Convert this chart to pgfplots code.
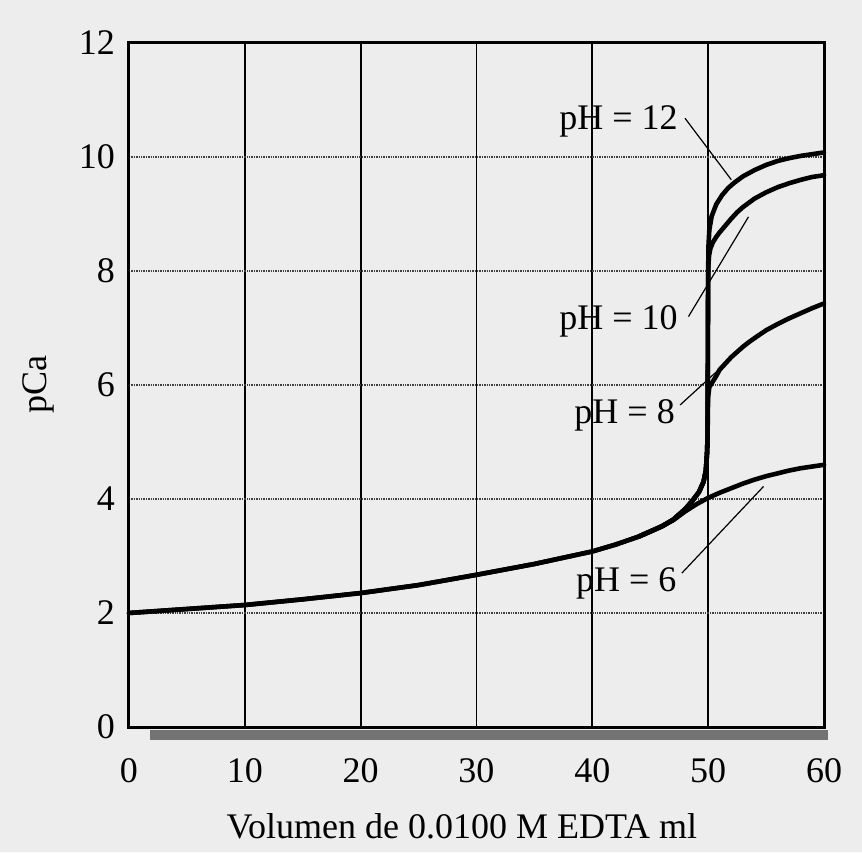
\documentclass[border=0pt]{standalone}
\usepackage{fontspec}
\setmainfont{Liberation Serif}
\usepackage{pgfplots}
\usepackage{pgfplotstable}
\pgfplotsset{compat=1.18}

\pgfplotstableread{
x y
0 2.00
5 2.07
10 2.14
15 2.24
20 2.35
25 2.49
30 2.67
35 2.86
40 3.08
42 3.20
44 3.34
46 3.52
47 3.63
48 3.78
49 3.91
50 4.02
51 4.11
52 4.19
53 4.27
54 4.34
55 4.40
56 4.45
57 4.50
58 4.54
59 4.57
60 4.60
}\phsix

\pgfplotstableread{
x y
0 2.00
5 2.07
10 2.14
15 2.24
20 2.35
25 2.49
30 2.67
35 2.86
40 3.08
42 3.20
44 3.34
46 3.52
47 3.64
48 3.82
48.6 3.96
49.2 4.12
49.6 4.30
49.8 4.50
49.9 4.80
49.95 5.10
49.97 5.50
50.0 5.80
50.1 5.96
50.4 6.06
50.7 6.16
51.0 6.27
51.5 6.38
52.0 6.49
52.5 6.58
53.0 6.67
53.5 6.75
54.2 6.85
55.0 6.96
56.0 7.07
57.0 7.17
58.0 7.26
59.0 7.35
60.0 7.43
}\pheight

\pgfplotstableread{
x y
44 3.34
46 3.52
47 3.64
48 3.82
48.6 3.96
49.2 4.12
49.6 4.30
49.8 4.50
49.9 4.80
49.95 5.10
49.97 6.50
49.99 7.60
50.02 8.10
50.08 8.28
50.2 8.40
50.4 8.50
50.7 8.60
51.0 8.68
51.5 8.80
52.0 8.92
52.5 9.03
53.0 9.12
54.0 9.27
55.0 9.38
56.0 9.47
57.0 9.54
58.0 9.60
59.0 9.65
60.0 9.68
}\phten

\pgfplotstableread{
x y
44 3.34
46 3.52
47 3.64
48 3.82
48.6 3.96
49.2 4.12
49.6 4.30
49.8 4.50
49.9 4.80
49.95 5.10
49.98 7.00
50.0 8.00
50.03 8.45
50.1 8.72
50.3 8.96
50.7 9.17
51.2 9.33
51.7 9.45
52.2 9.54
53.0 9.66
54.0 9.77
55.0 9.86
56.0 9.93
57.0 9.98
58.0 10.02
59.0 10.05
60.0 10.08
}\phtwelve

\begin{document}
\begin{tikzpicture}
\fill[black!7] (-64.5pt,-62.5pt) rectangle (366.5pt,363.5pt);
\begin{axis}[
  at={(0,0)}, anchor=south west,
  scale only axis, width=347.5pt, height=342pt,
  xmin=0, xmax=60, ymin=0, ymax=12,
  xtick={0,10,...,60}, ytick={0,2,...,12},
  grid=major, major tick length=0pt,
  x grid style={black, line width=0.85pt},
  y grid style={black!75, line width=0.9pt, dash pattern=on 0.7pt off 0.5pt},
  axis line style={line width=1.5pt},
  tick label style={font=\fontsize{18}{21}\selectfont},
  /pgf/number format/assume math mode=true,
  xticklabel style={yshift=-12pt},
  yticklabel style={xshift=-3.5pt},
  label style={font=\fontsize{18}{21}\selectfont},
  xlabel={Volumen de 0.0100 M EDTA ml},
  xlabel style={at={([yshift=-39.5pt]axis description cs:0.479,0)}, anchor=north},
  ylabel={pCa},
  ylabel style={at={([xshift=-45.5pt]axis description cs:0,0.5)}, anchor=center},
  clip=false,
  curve/.style={black, no markers, line width=2.3pt, line join=round, line cap=round},
]
\fill[black!55] (axis cs:1.8,-0.05) rectangle (axis cs:60.35,-0.22);
\addplot[curve] table[x=x,y=y] {\phsix};
\addplot[curve] table[x=x,y=y] {\pheight};
\addplot[curve] table[x=x,y=y] {\phten};
\addplot[curve] table[x=x,y=y] {\phtwelve};

\node[anchor=base east, inner sep=0pt, font=\fontsize{18}{21}\selectfont] at (axis cs:47.4,10.49) {pH = 12};
\node[anchor=base east, inner sep=0pt, font=\fontsize{18}{21}\selectfont] at (axis cs:47.4,6.98) {pH = 10};
\node[anchor=base east, inner sep=0pt, font=\fontsize{18}{21}\selectfont] at (axis cs:47.15,5.33) {pH = 8};
\node[anchor=base east, inner sep=0pt, font=\fontsize{18}{21}\selectfont] at (axis cs:47.3,2.37) {pH = 6};

\draw[line width=0.6pt] (axis cs:48.0,10.68) -- (axis cs:52.0,9.60);
\draw[line width=0.6pt] (axis cs:48.3,7.2) -- (axis cs:53.48,8.95);
\draw[line width=0.6pt] (axis cs:47.58,5.65) -- (axis cs:52.48,6.56);
\draw[line width=0.6pt] (axis cs:47.73,2.70) -- (axis cs:54.78,4.22);
\end{axis}
\pgfresetboundingbox
\path[use as bounding box] (-64.5pt,-62.5pt) rectangle (366.5pt,363.5pt);
\end{tikzpicture}
\end{document}
